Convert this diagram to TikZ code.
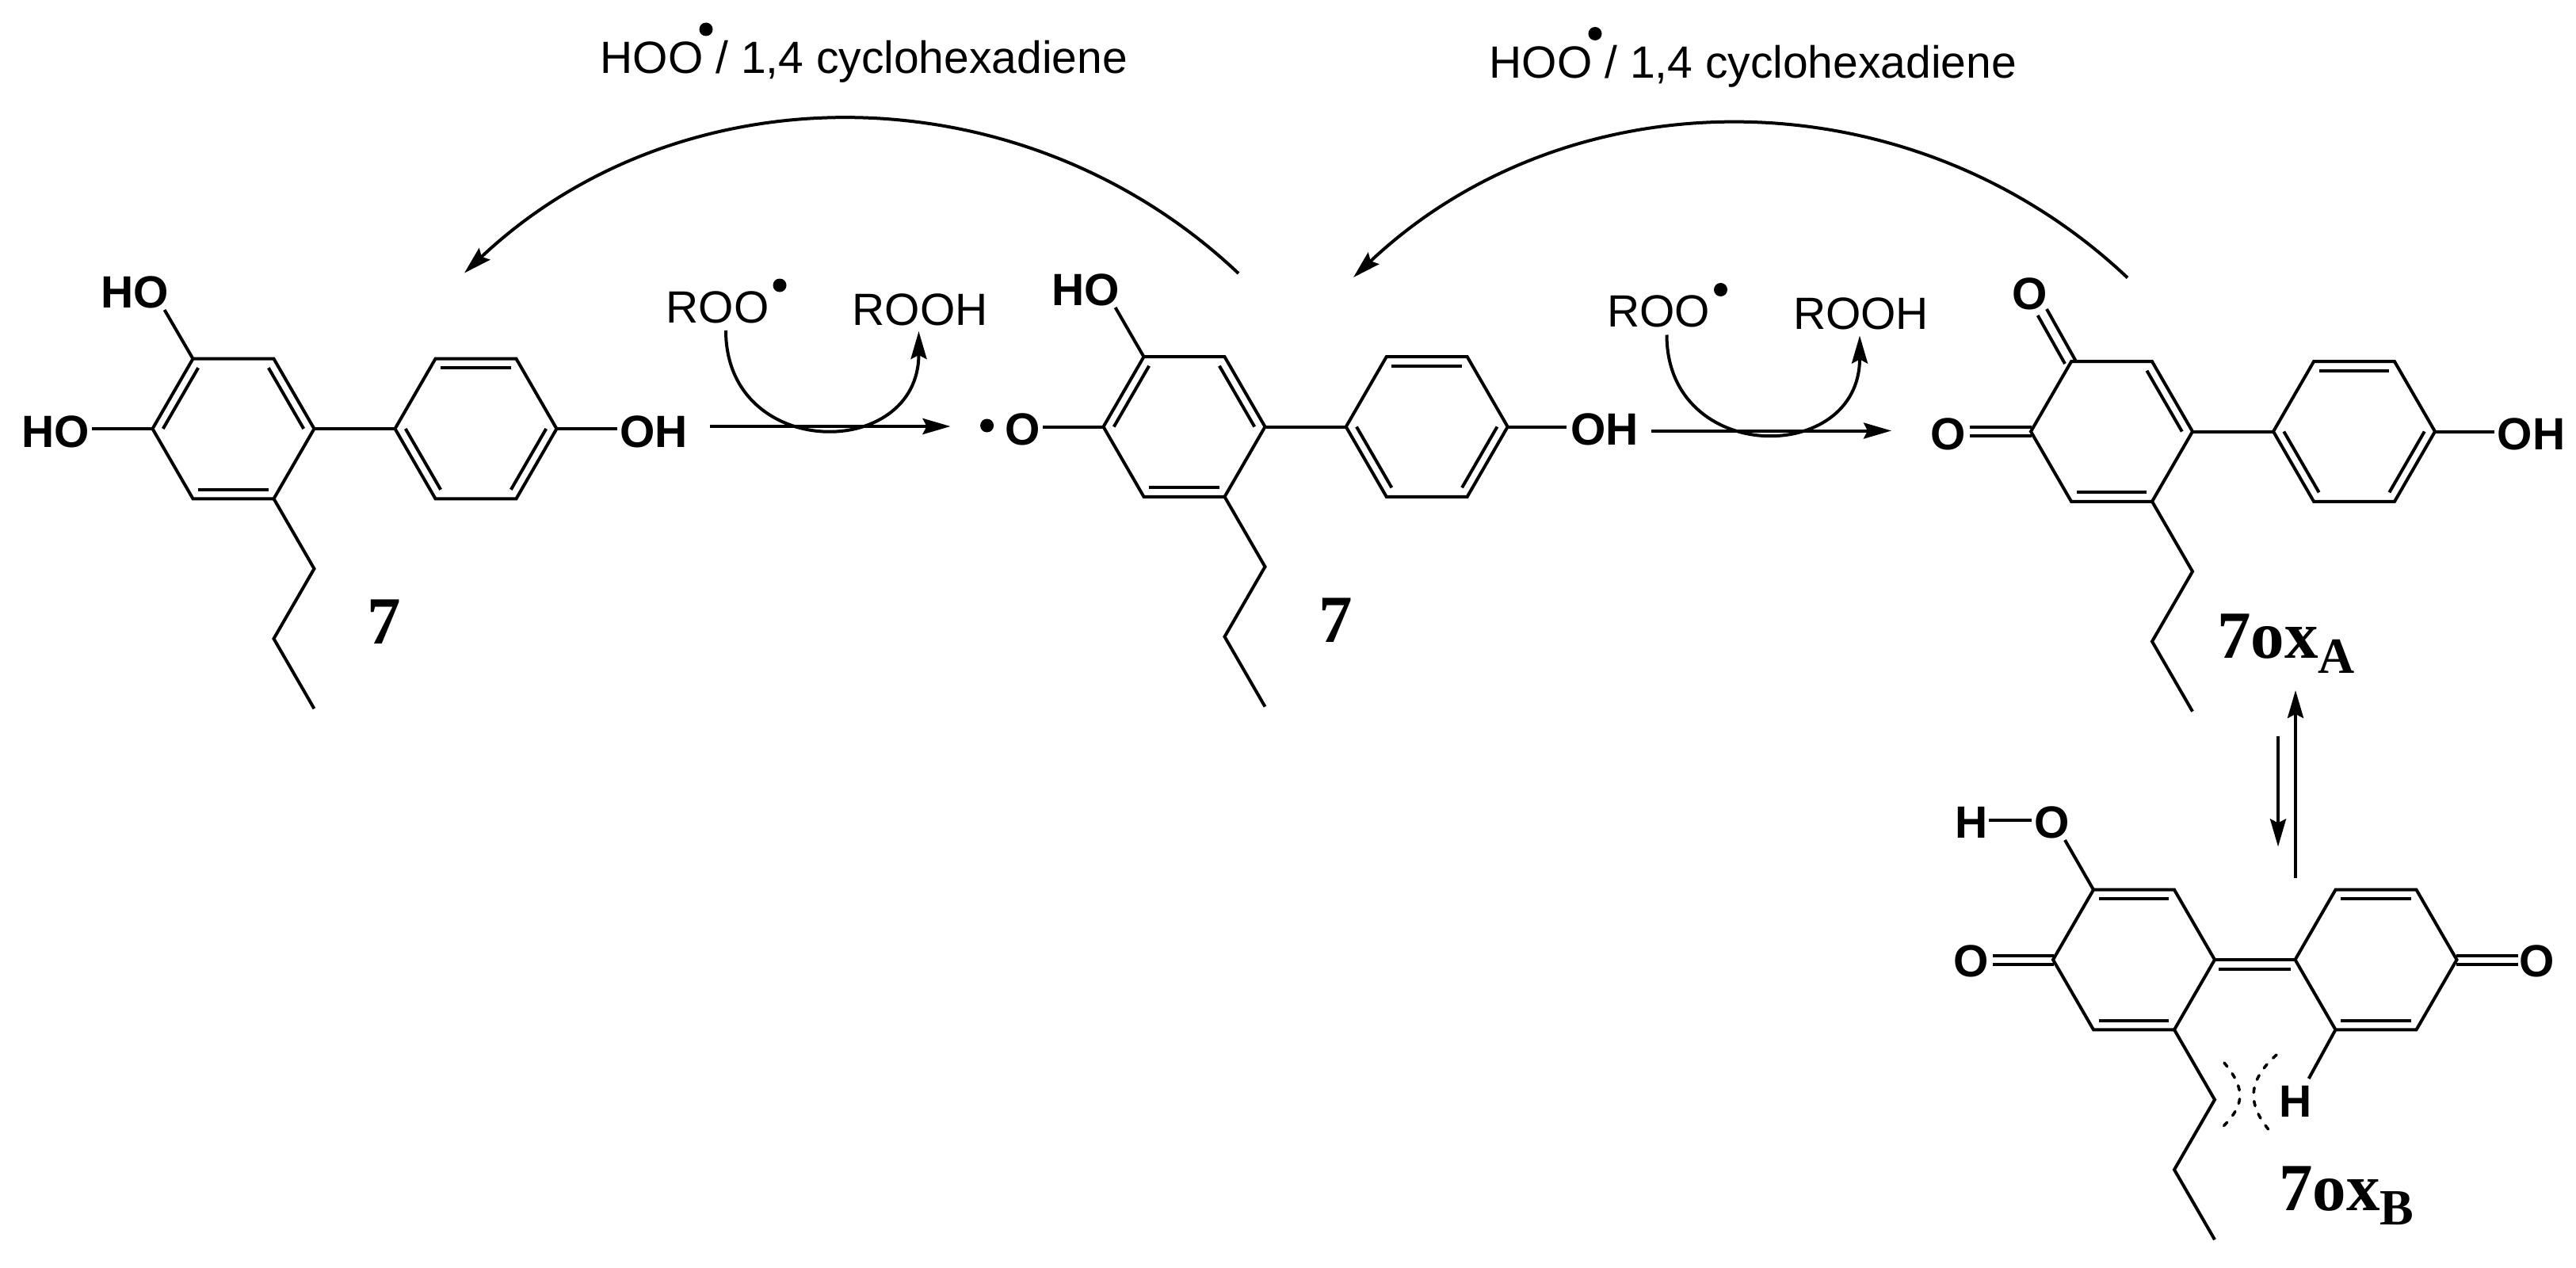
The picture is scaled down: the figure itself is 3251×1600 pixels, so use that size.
\documentclass[tikz,border=0pt]{standalone}
\usepackage{fontspec}
\setmainfont{Liberation Sans}
\newfontfamily\serifbold[BoldFont={Liberation Serif Bold}]{Liberation Serif}
\usetikzlibrary{calc,arrows.meta}
\tikzset{
  x=1pt,y=-1pt,
  bond/.style={line width=4pt,line join=miter},
  rxn/.style={line width=4pt,-{Stealth[length=35pt,width=20pt,inset=5pt]}},
  dashbond/.style={line width=3.6pt,line cap=round,dash pattern=on 6pt off 11pt},
  lab/.style={anchor=base,inner sep=0pt,outer sep=0pt,font=\fontsize{57}{60}\selectfont},
  blab/.style={lab,font=\fontsize{57}{60}\selectfont\bfseries},
  numlab/.style={anchor=base,inner sep=0pt,font=\fontsize{85}{86}\selectfont\serifbold\bfseries},
  numlabw/.style={anchor=base west,inner sep=0pt,font=\fontsize{85}{86}\selectfont\serifbold\bfseries},
  toplab/.style={anchor=base west,inner sep=0pt,font=\fontsize{57}{60}\selectfont},
  raddot/.style={circle,fill=black,inner sep=0pt,minimum size=17pt},
}
% name, centre x, centre y
\newcommand{\hexring}[3]{%
  \coordinate (#1c) at (#2,#3);
  \coordinate (#11) at (#2-51,#3-88.3);
  \coordinate (#12) at (#2+51,#3-88.3);
  \coordinate (#13) at (#2+102,#3);
  \coordinate (#14) at (#2+51,#3+88.3);
  \coordinate (#15) at (#2-51,#3+88.3);
  \coordinate (#16) at (#2-102,#3);
  \draw[bond] (#11) -- (#12) -- (#13) -- (#14) -- (#15) -- (#16) -- cycle;
}
\newcommand{\innerdbl}[3]{\draw[bond] ($(#1c)!.87!(#1#2)$) -- ($(#1c)!.87!(#1#3)$);}
\newcommand{\propyl}[2]{%
  \coordinate (#1p1) at ($(#2)+(51,88.3)$);
  \coordinate (#1p2) at ($(#2)+(0,176.6)$);
  \coordinate (#1p3) at ($(#2)+(51,264.9)$);
  \draw[bond] (#2) -- (#1p1) -- (#1p2) -- (#1p3);
}
% name, dx, dy: the ROO/ROOH exchange with its arrows
\newcommand{\exchange}[3]{%
  \node[lab] (#1roo) at (905.5+#2,407+#3) {ROO};
  \node[raddot] (#1rood) at (984+#2,360+#3) {};
  \node[lab] (#1rooh) at (1161+#2,410+#3) {ROOH};
  \coordinate (#1cs) at (916+#2,417+#3);
  \coordinate (#1ce) at (1159.5+#2,418+#3);
  \coordinate (#1hs) at (896+#2,538+#3);
  \coordinate (#1he) at (1199.5+#2,538+#3);
  \draw[rxn] (#1hs) -- (#1he);
  \draw[rxn] (#1cs) .. controls (916+#2,582+#3) and (1159.5+#2,582+#3) .. (#1ce);
}
% name, dx, dy: the long arc with its reagent label
\newcommand{\longarc}[3]{%
  \node[toplab] (#1t) at (757.5+#2,93+#3) {HOO / 1,4 cyclohexadiene};
  \node[raddot] (#1d) at (891+#2,37+#3) {};
  \coordinate (#1s) at (1563+#2,345+#3);
  \coordinate (#1e) at (586+#2,344.5+#3);
  \draw[rxn] (#1s) .. controls (1289+#2,86+#3) and (860+#2,86+#3) .. (#1e);
}
\begin{document}
\begin{tikzpicture}
\useasboundingbox (0,0) rectangle (3251,1600);

% ---------- molecule 1
\hexring{aA}{294.5}{541}
\hexring{aB}{600.5}{541}
\innerdbl{aA}{6}{1}\innerdbl{aA}{2}{3}\innerdbl{aA}{4}{5}
\innerdbl{aB}{1}{2}\innerdbl{aB}{5}{6}\innerdbl{aB}{3}{4}
\draw[bond] (aA3) -- (aB6);
\propyl{a}{aA4}
\node[blab] (ahot) at (170,388) {HO};
\node[blab] (ahol) at (70,564) {HO};
\node[blab] (aoh) at (825,564) {OH};
\coordinate (aet) at (207.6,391);
\coordinate (ael) at (116,541);
\coordinate (aer) at (779,541);
\draw[bond] (aA1) -- (aet);
\draw[bond] (aA6) -- (ael);
\draw[bond] (aB3) -- (aer);
\node[numlab] (anum) at (485,812.6) {7};

% ---------- molecule 2
\hexring{bA}{1494.5}{538.5}
\hexring{bB}{1800.7}{538.5}
\innerdbl{bA}{6}{1}\innerdbl{bA}{2}{3}\innerdbl{bA}{4}{5}
\innerdbl{bB}{1}{2}\innerdbl{bB}{5}{6}\innerdbl{bB}{3}{4}
\draw[bond] (bA3) -- (bB6);
\propyl{b}{bA4}
\node[blab] (bhot) at (1370.5,385.7) {HO};
\node[blab] (bol) at (1291,561) {O};
\node[raddot] (bdot) at (1245.6,537) {};
\node[blab] (boh) at (2025,561) {OH};
\coordinate (bet) at (1407.6,388);
\coordinate (bel) at (1316,538.5);
\coordinate (ber) at (1977,538.5);
\draw[bond] (bA1) -- (bet);
\draw[bond] (bA6) -- (bel);
\draw[bond] (bB3) -- (ber);
\node[numlab] (bnum) at (1685.5,810) {7};

% ---------- molecule 3
\hexring{cA}{2665}{544.5}
\hexring{cB}{2971}{544.5}
\innerdbl{cA}{2}{3}\innerdbl{cA}{4}{5}
\innerdbl{cB}{1}{2}\innerdbl{cB}{5}{6}\innerdbl{cB}{3}{4}
\draw[bond] (cA3) -- (cB6);
\propyl{c}{cA4}
\node[blab] (cot) at (2562,390.6) {O};
\node[blab] (col) at (2459,567) {O};
\node[blab] (coh) at (3194.5,567) {OH};
\coordinate (ct1a) at (2571.7,398);\coordinate (ct1b) at (2606,459);
\coordinate (ct2a) at (2583,390);\coordinate (ct2b) at (2620,456);
\draw[bond] (ct1a) -- (ct1b);
\draw[bond] (ct2a) -- (ct2b);
\coordinate (cl1a) at (2485.6,539);\coordinate (cl1b) at (2564,539);
\coordinate (cl2a) at (2485.6,550);\coordinate (cl2b) at (2564,550);
\draw[bond] (cl1a) -- (cl1b);
\draw[bond] (cl2a) -- (cl2b);
\coordinate (cer) at (3148,544.5);
\draw[bond] (cB3) -- (cer);
\node[numlabw] (cnum) at (2798,830.6) {7ox\raisebox{-18.5pt}{\fontsize{64}{64}\selectfont A}};

% ---------- molecule 4
\hexring{dA}{2693}{1211}
\hexring{dB}{2998.5}{1211}
\innerdbl{dA}{1}{2}\innerdbl{dA}{4}{5}
\innerdbl{dB}{1}{2}\innerdbl{dB}{4}{5}
\draw[bond] (dA3) -- (dB6);
\coordinate (dcia) at (2800.3,1223);\coordinate (dcib) at (2891,1223);
\draw[bond] (dcia) -- (dcib);
\propyl{d}{dA4}
\node[blab] (dh) at (2488,1057) {H};
\node[blab] (dot) at (2590,1057) {O};
\node[blab] (dol) at (2488,1232.5) {O};
\node[blab] (dor) at (3202,1232.5) {O};
\node[blab] (dhh) at (2897,1409.3) {H};
\coordinate (dhb1) at (2510,1034.7);\coordinate (dhb2) at (2564,1034.7);
\draw[bond] (dhb1) -- (dhb2);
\coordinate (dob) at (2606,1060);
\draw[bond] (dA1) -- (dob);
\coordinate (dl1a) at (2515,1206);\coordinate (dl1b) at (2592,1206);
\coordinate (dl2a) at (2515,1217);\coordinate (dl2b) at (2592,1217);
\draw[bond] (dl1a) -- (dl1b);
\draw[bond] (dl2a) -- (dl2b);
\coordinate (dr1a) at (3100,1206);\coordinate (dr1b) at (3177.5,1206);
\coordinate (dr2a) at (3100,1217);\coordinate (dr2b) at (3177.5,1217);
\draw[bond] (dr1a) -- (dr1b);
\draw[bond] (dr2a) -- (dr2b);
\coordinate (dhe) at (2913.7,1361);
\draw[bond] (dB5) -- (dhe);
\coordinate (dq1) at (2807,1341);\coordinate (dq2) at (2803,1424);
\coordinate (dq3) at (2873,1331);\coordinate (dq4) at (2867,1430);
\draw[dashbond] (dq1) .. controls (2835,1375) and (2833,1395) .. (dq2);
\draw[dashbond] (dq3) .. controls (2835,1365) and (2836,1395) .. (dq4);
\node[numlabw] (dnum) at (2876,1527) {7ox\raisebox{-18pt}{\fontsize{64}{64}\selectfont B}};

% ---------- reaction arrows
\exchange{e}{0}{0}
\exchange{f}{1187.5}{5.5}
\longarc{g}{0}{0}
\longarc{h}{1122}{5.5}

% ---------- equilibrium
\coordinate (eqa) at (2897,1107.5);\coordinate (eqb) at (2897,871);
\coordinate (eqc) at (2875,928.6);\coordinate (eqd) at (2875,1068.4);
\draw[rxn] (eqa) -- (eqb);
\draw[rxn] (eqc) -- (eqd);
\end{tikzpicture}
\end{document}
